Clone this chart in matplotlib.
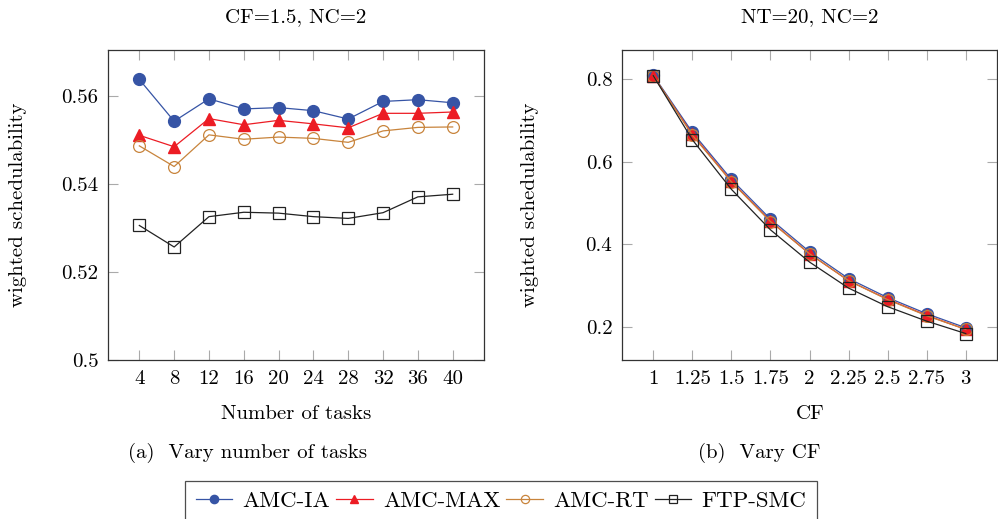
import matplotlib
matplotlib.use("Agg")
import matplotlib.pyplot as plt

plt.rcParams['font.family'] = 'cmr10'
plt.rcParams['axes.formatter.use_mathtext'] = True
plt.rcParams['font.size'] = 15

# (a) vary number of tasks, CF=1.5, NC=2
tasks = [4, 8, 12, 16, 20, 24, 28, 32, 36, 40]
ia_tasks = [0.5638, 0.5543, 0.5594, 0.5571, 0.5574, 0.5567, 0.5548, 0.5588, 0.5592, 0.5585]
max_tasks = [0.5511, 0.5485, 0.5549, 0.5535, 0.5545, 0.5537, 0.5528, 0.5561, 0.5561, 0.5564]
rt_tasks = [0.5487, 0.5440, 0.5512, 0.5502, 0.5507, 0.5504, 0.5495, 0.5521, 0.5529, 0.5530]
ftp_tasks = [0.5306, 0.5257, 0.5326, 0.5336, 0.5334, 0.5326, 0.5322, 0.5335, 0.5371, 0.5377]

# (b) vary CF, NT=20, NC=2
cf = [1, 1.25, 1.5, 1.75, 2, 2.25, 2.5, 2.75, 3]
cf_labels = ['1', '1.25', '1.5', '1.75', '2', '2.25', '2.5', '2.75', '3']
ia_cf = [0.809, 0.671, 0.557, 0.461, 0.382, 0.317, 0.271, 0.232, 0.198]
max_cf = [0.807, 0.666, 0.552, 0.456, 0.377, 0.312, 0.267, 0.228, 0.194]
rt_cf = [0.808, 0.664, 0.551, 0.455, 0.377, 0.312, 0.266, 0.227, 0.194]
ftp_cf = [0.808, 0.653, 0.533, 0.435, 0.357, 0.294, 0.249, 0.214, 0.184]

blue = '#3654a5'
red = '#ec1c24'
brown = '#c8843c'

fig = plt.figure(figsize=(9.98, 5.19), dpi=100)
ax1 = fig.add_axes([108/998, 1-360/519, 376/998, 310/519])
ax2 = fig.add_axes([622/998, 1-360/519, 375/998, 310/519])


def draw(ax, x, ia, mx, rt, ftp):
    l1, = ax.plot(x, ia, color=blue, lw=0.9, marker='o', ms=8.5, mfc=blue, mec=blue, label='AMC-IA')
    l2, = ax.plot(x, mx, color=red, lw=0.9, marker='^', ms=8, mfc=red, mec=red, label='AMC-MAX')
    l3, = ax.plot(x, rt, color=brown, lw=0.9, marker='o', ms=8.5, mfc='none', mec=brown, mew=0.9, label='AMC-RT')
    l4, = ax.plot(x, ftp, color='#222222', lw=0.9, marker='s', ms=8, mfc='none', mec='#222222', mew=0.9, label='FTP-SMC')
    ax.tick_params(direction='in', length=7, width=0.8, color='#aaaaaa', top=True, right=True, pad=7)
    for s in ax.spines.values():
        s.set_color('#333333')
        s.set_linewidth(0.9)
    return [l1, l2, l3, l4]


handles = draw(ax1, tasks, ia_tasks, max_tasks, rt_tasks, ftp_tasks)
ax1.set_xlim(0.4, 43.6)
ax1.set_ylim(0.5, 0.5705)
ax1.set_xticks(tasks)
ax1.set_xticklabels([str(t) for t in tasks])
ax1.set_yticks([0.5, 0.52, 0.54, 0.56])
ax1.set_yticklabels(['0.5', '0.52', '0.54', '0.56'])

draw(ax2, cf, ia_cf, max_cf, rt_cf, ftp_cf)
ax2.set_xlim(0.8, 3.2)
ax2.set_ylim(0.12, 0.87)
ax2.set_xticks(cf)
ax2.set_xticklabels(cf_labels)
ax2.set_yticks([0.2, 0.4, 0.6, 0.8])
ax2.set_yticklabels(['0.2', '0.4', '0.6', '0.8'])

fig.text(296/998, 1-17/519, 'CF=1.5, NC=2', ha='center', va='center')
fig.text(810/998, 1-17/519, 'NT=20, NC=2', ha='center', va='center')
fig.text(18/998, 1-205/519, 'wighted schedulability', rotation=90, ha='center', va='center')
fig.text(530/998, 1-205/519, 'wighted schedulability', rotation=90, ha='center', va='center')
fig.text(296/998, 1-414/519, 'Number of tasks', ha='center', va='center')
fig.text(810/998, 1-414/519, 'CF', ha='center', va='center')
fig.text(248/998, 1-453/519, '(a)  Vary number of tasks', ha='center', va='center')
fig.text(759/998, 1-453/519, '(b)  Vary CF', ha='center', va='center')

leg = fig.legend(handles=handles, ncol=4, loc='center', bbox_to_anchor=(501/998, 1-501/519),
                 frameon=True, fancybox=False, edgecolor='#222222', handlelength=1.6,
                 handletextpad=0.45, columnspacing=0.25, borderpad=0.45, markerscale=0.7,
                 fontsize=16.5)
leg.get_frame().set_linewidth(0.9)

fig.savefig('out.png', dpi=100)
